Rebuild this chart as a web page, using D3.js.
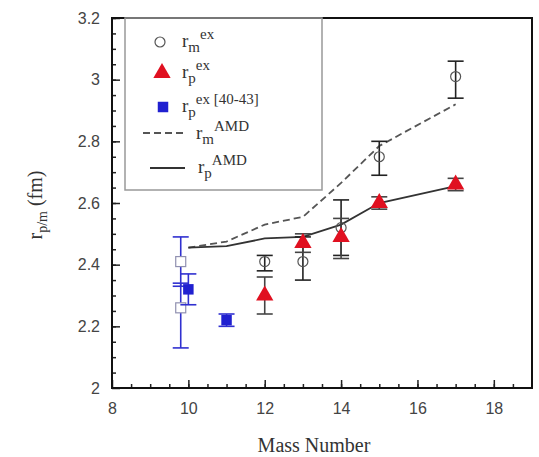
<!DOCTYPE html>
<html>
<head>
<meta charset="utf-8">
<script src="https://cdn.jsdelivr.net/npm/d3@7"></script>
<style>
  body { margin: 0; background: #fff; }
  svg { display: block; }
  .tick text { font-family: "Liberation Sans", Arial, sans-serif; font-size: 16px; fill: #444; }
  .serif { font-family: "Liberation Serif", "Times New Roman", serif; fill: #333; }
</style>
</head>
<body>
<svg id="chart" width="539" height="457"></svg>
<script>
// r_m^ex (open circles)
var massM = [12, 13, 14, 15, 17];
var rmEx  = [2.41, 2.41, 2.52, 2.75, 3.01];
var rmLo  = [2.38, 2.35, 2.43, 2.69, 2.94];
var rmHi  = [2.43, 2.49, 2.61, 2.80, 3.06];

// r_p^ex (red triangles)
var massP = [12, 13, 14, 15, 17];
var rpEx  = [2.30, 2.47, 2.49, 2.60, 2.66];
var rpLo  = [2.24, 2.44, 2.42, 2.58, 2.64];
var rpHi  = [2.36, 2.50, 2.55, 2.62, 2.68];

// r_p^ex [40-43] (filled blue squares)
var massRef = [10, 11];
var rpRef   = [2.32, 2.22];
var rpRefLo = [2.27, 2.20];
var rpRefHi = [2.37, 2.24];

// other matter radii at A=10 (open blue squares)
var massRefM = [9.8, 9.8];
var rmRef    = [2.41, 2.26];
var rmRefLo  = [2.33, 2.13];
var rmRefHi  = [2.49, 2.34];

// AMD curves
var massAmd = [10, 11, 12, 13, 14, 15, 17];
var rmAmd   = [2.455, 2.475, 2.53, 2.555, 2.665, 2.785, 2.92];
var rpAmd   = [2.455, 2.46, 2.485, 2.49, 2.53, 2.60, 2.655];

var xTicks = [8, 10, 12, 14, 16, 18];
var yTicks = [2, 2.2, 2.4, 2.6, 2.8, 3, 3.2];

var svg = d3.select('#chart');
var pL = 112, pR = 532, pT = 18, pB = 388;

var x = d3.scaleLinear().domain([8, 19]).range([pL, pR]);
var y = d3.scaleLinear().domain([2, 3.2]).range([pB, pT]);

// minor ticks
svg.append('g')
  .attr('transform', 'translate(0,' + pB + ')')
  .call(d3.axisBottom(x).tickValues(d3.range(8.5, 19, 0.5)).tickSize(-4).tickFormat(''))
  .call(function(g) { g.select('.domain').remove(); });
svg.append('g')
  .attr('transform', 'translate(' + pL + ',0)')
  .call(d3.axisLeft(y).tickValues(d3.range(2.05, 3.2, 0.05)).tickSize(-4).tickFormat(''))
  .call(function(g) { g.select('.domain').remove(); });

// major ticks + labels
svg.append('g')
  .attr('transform', 'translate(0,' + pB + ')')
  .call(d3.axisBottom(x).tickValues(xTicks).tickSize(-8).tickPadding(15).tickFormat(d3.format('d')))
  .call(function(g) { g.select('.domain').remove(); });
svg.append('g')
  .attr('transform', 'translate(' + pL + ',0)')
  .call(d3.axisLeft(y).tickValues(yTicks).tickSize(-8).tickPadding(12).tickFormat(function(d) { return String(+d.toFixed(1)); }))
  .call(function(g) { g.select('.domain').remove(); });

svg.selectAll('.tick line').attr('stroke', '#222').attr('stroke-width', 1.5);

// frame
svg.append('rect')
  .attr('x', pL).attr('y', pT)
  .attr('width', pR - pL).attr('height', pB - pT)
  .attr('fill', 'none').attr('stroke', '#111').attr('stroke-width', 2);

// legend box
var lg = svg.append('g');
lg.append('rect')
  .attr('x', 125).attr('y', pT)
  .attr('width', 322 - 125).attr('height', 190 - pT)
  .attr('fill', 'none').attr('stroke', '#999').attr('stroke-width', 1.5);

// AMD lines
var line = d3.line().x(function(d) { return x(d[0]); }).y(function(d) { return y(d[1]); });
svg.append('path')
  .datum(d3.zip(massAmd, rmAmd))
  .attr('d', line).attr('fill', 'none')
  .attr('stroke', '#555').attr('stroke-width', 1.8).attr('stroke-dasharray', '7,4');
svg.append('path')
  .datum(d3.zip(massAmd, rpAmd))
  .attr('d', line).attr('fill', 'none')
  .attr('stroke', '#333').attr('stroke-width', 1.8);

function errorBars(xs, lo, hi, color) {
  var g = svg.append('g').attr('stroke', color).attr('stroke-width', 1.6);
  var data = d3.zip(xs, lo, hi);
  g.selectAll('.v').data(data).enter().append('line')
    .attr('x1', function(d) { return x(d[0]); }).attr('x2', function(d) { return x(d[0]); })
    .attr('y1', function(d) { return y(d[1]); }).attr('y2', function(d) { return y(d[2]); });
  [1, 2].forEach(function(k) {
    g.selectAll('.c' + k).data(data).enter().append('line')
      .attr('x1', function(d) { return x(d[0]) - 8; }).attr('x2', function(d) { return x(d[0]) + 8; })
      .attr('y1', function(d) { return y(d[k]); }).attr('y2', function(d) { return y(d[k]); });
  });
}

// open blue squares
errorBars(massRefM, rmRefLo, rmRefHi, '#3030d0');
svg.append('g').selectAll('rect').data(d3.zip(massRefM, rmRef)).enter().append('rect')
  .attr('x', function(d) { return x(d[0]) - 5; }).attr('y', function(d) { return y(d[1]) - 5; })
  .attr('width', 10).attr('height', 10)
  .attr('fill', '#fff').attr('stroke', '#9090b0').attr('stroke-width', 1.2);

// filled blue squares
errorBars(massRef, rpRefLo, rpRefHi, '#3030d0');
var sq = d3.symbol().type(d3.symbolSquare).size(110);
svg.append('g').selectAll('path').data(d3.zip(massRef, rpRef)).enter().append('path')
  .attr('d', sq)
  .attr('transform', function(d) { return 'translate(' + x(d[0]) + ',' + y(d[1]) + ')'; })
  .attr('fill', '#2020d0');

// open circles
errorBars(massM, rmLo, rmHi, '#222');
svg.append('g').selectAll('circle').data(d3.zip(massM, rmEx)).enter().append('circle')
  .attr('cx', function(d) { return x(d[0]); }).attr('cy', function(d) { return y(d[1]); })
  .attr('r', 5).attr('fill', 'none').attr('stroke', '#555').attr('stroke-width', 1.2);

// red triangles
errorBars(massP, rpLo, rpHi, '#444');
var tri = d3.symbol().type(d3.symbolTriangle).size(130);
svg.append('g').selectAll('path').data(d3.zip(massP, rpEx)).enter().append('path')
  .attr('d', tri)
  .attr('transform', function(d) { return 'translate(' + x(d[0]) + ',' + y(d[1]) + ')'; })
  .attr('fill', '#e01020');

// legend entries
function labelText(g, tx, ty, sub, sup) {
  var t = g.append('text').attr('class', 'serif').attr('x', tx).attr('y', ty).style('font-size', '19px');
  t.append('tspan').text('r');
  t.append('tspan').attr('dy', 5).style('font-size', '15px').text(sub);
  t.append('tspan').attr('dy', -13).style('font-size', '15px').text(sup);
}
lg.append('circle').attr('cx', 160).attr('cy', 42).attr('r', 5)
  .attr('fill', 'none').attr('stroke', '#555').attr('stroke-width', 1.2);
labelText(lg, 182, 47, 'm', 'ex');
lg.append('path').attr('d', tri).attr('transform', 'translate(162,73)').attr('fill', '#e01020');
labelText(lg, 182, 78, 'p', 'ex');
lg.append('path').attr('d', sq).attr('transform', 'translate(163,107)').attr('fill', '#2020d0');
labelText(lg, 182, 112, 'p', 'ex [40-43]');
lg.append('line').attr('x1', 143).attr('x2', 187).attr('y1', 133).attr('y2', 133)
  .attr('stroke', '#555').attr('stroke-width', 1.8).attr('stroke-dasharray', '7,4');
labelText(lg, 196, 139, 'm', 'AMD');
lg.append('line').attr('x1', 150).attr('x2', 185).attr('y1', 168).attr('y2', 168)
  .attr('stroke', '#333').attr('stroke-width', 1.8);
labelText(lg, 198, 173, 'p', 'AMD');

// axis titles
svg.append('text').attr('class', 'serif')
  .attr('x', (pL + pR) / 2 - 8).attr('y', 452)
  .attr('text-anchor', 'middle').style('font-size', '20px')
  .text('Mass Number');

var yt = svg.append('text').attr('class', 'serif')
  .attr('transform', 'translate(42,205) rotate(-90)')
  .attr('text-anchor', 'middle').style('font-size', '20px');
yt.append('tspan').text('r');
yt.append('tspan').attr('dy', 5).style('font-size', '14px').text('p/m');
yt.append('tspan').attr('dy', -5).text(' (fm)');
</script>
</body>
</html>
